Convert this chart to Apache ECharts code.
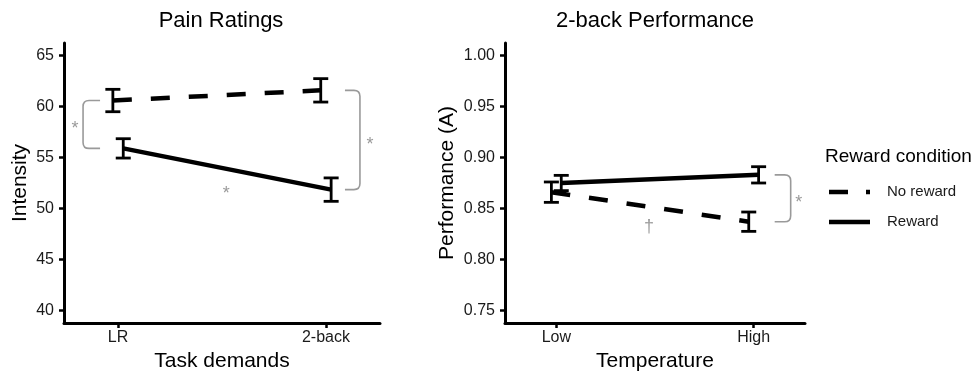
<!DOCTYPE html>
<html>
<head>
<meta charset="utf-8">
<script src="https://cdn.jsdelivr.net/npm/echarts@6/dist/echarts.min.js"></script>
<style>html,body{margin:0;padding:0;background:#fff}#c{width:977px;height:375px}</style>
</head>
<body>
<div id="c"></div>
<script>
// ---------- data ----------
const painCategories = ['LR', '2-back'];
const painNoRewardMean = [60.6, 61.6];
const painNoRewardErr = [1.1, 1.15];
const painRewardMean = [55.9, 51.85];
const painRewardErr = [0.95, 1.15];
const painTicks = [40, 45, 50, 55, 60, 65];

const perfCategories = ['Low', 'High'];
const perfNoRewardMean = [0.866, 0.837];
const perfNoRewardErr = [0.010, 0.0095];
const perfRewardMean = [0.875, 0.883];
const perfRewardErr = [0.0075, 0.008];
const perfTicks = [0.75, 0.80, 0.85, 0.90, 0.95, 1.00];

const groupNames = ['No reward', 'Reward'];
const legendTitle = 'Reward condition';

// ---------- layout / style ----------
const FONT = '"Liberation Sans", Arial, sans-serif';
const DODGE = 0.025;
const GREY = '#9a9a9a';

function xAxisFor(idx, cats, name) {
  return {
    type: 'value', gridIndex: idx, min: 0.74, max: 2.26,
    axisLine: {show: true, onZero: false, lineStyle: {color: '#000', width: 3}},
    axisTick: {show: true, customValues: [1, 2], length: 5, lineStyle: {color: '#000', width: 2.5}},
    axisLabel: {show: true, customValues: [1, 2], formatter: v => cats[Math.round(v) - 1],
      color: '#1a1a1a', fontSize: 16, margin: 7, fontFamily: FONT},
    splitLine: {show: false},
    name: name, nameLocation: 'middle', nameGap: 25,
    nameTextStyle: {fontSize: 21, color: '#000', fontFamily: FONT}
  };
}
function yAxisFor(idx, min, max, ticks, fmt, name, gap) {
  return {
    type: 'value', gridIndex: idx, min: min, max: max,
    axisLine: {show: true, onZero: false, lineStyle: {color: '#000', width: 3}},
    axisTick: {show: true, customValues: ticks, length: 5, lineStyle: {color: '#000', width: 2.5}},
    axisLabel: {show: true, customValues: ticks, formatter: fmt,
      color: '#1a1a1a', fontSize: 16, margin: 10, fontFamily: FONT},
    splitLine: {show: false},
    name: name, nameLocation: 'middle', nameGap: gap, nameRotate: 90,
    nameTextStyle: {fontSize: 21, color: '#000', fontFamily: FONT}
  };
}

function lineSeries(idx, means, dashed, off) {
  return {
    type: 'line', xAxisIndex: idx, yAxisIndex: idx, name: dashed ? groupNames[0] : groupNames[1],
    data: means.map((m, i) => [i + 1 + off, m]),
    symbol: 'none', silent: true, z: 4,
    lineStyle: {color: '#000', width: 4.5, type: dashed ? [19, 19] : 'solid', cap: 'butt'}
  };
}
function errSeries(idx, means, errs, off) {
  return {
    type: 'custom', xAxisIndex: idx, yAxisIndex: idx, z: 3, silent: true,
    data: means.map((m, i) => [i + 1 + off, m - errs[i], m + errs[i]]),
    renderItem: function (params, api) {
      const x = api.value(0);
      const a = api.coord([x, api.value(2)]);
      const b = api.coord([x, api.value(1)]);
      const hw = 7.5, st = {stroke: '#000', lineWidth: 2.8};
      return {type: 'group', children: [
        {type: 'line', shape: {x1: a[0], y1: a[1], x2: b[0], y2: b[1]}, style: st},
        {type: 'line', shape: {x1: a[0] - hw, y1: a[1], x2: a[0] + hw, y2: a[1]}, style: st},
        {type: 'line', shape: {x1: b[0] - hw, y1: b[1], x2: b[0] + hw, y2: b[1]}, style: st}
      ]};
    }
  };
}
// bracket: [xCategory, valueA, valueB]; side -1 = left, +1 = right
function bracketSeries(idx, items, cfg) {
  return {
    type: 'custom', xAxisIndex: idx, yAxisIndex: idx, z: 2, silent: true,
    data: items,
    renderItem: function (params, api) {
      const c = cfg[params.dataIndex];
      const p1 = api.coord([api.value(0), api.value(1)]);
      const p2 = api.coord([api.value(0), api.value(2)]);
      const s = c.side;
      const top = Math.min(p1[1], p2[1]), bot = Math.max(p1[1], p2[1]);
      const xa = p1[0] + s * c.near, xv = p1[0] + s * c.far, r = 6;
      const d = 'M' + xa + ' ' + top + ' L' + (xv - s * r) + ' ' + top +
        ' Q' + xv + ' ' + top + ' ' + xv + ' ' + (top + r) +
        ' L' + xv + ' ' + (bot - r) +
        ' Q' + xv + ' ' + bot + ' ' + (xv - s * r) + ' ' + bot +
        ' L' + xa + ' ' + bot;
      return {type: 'group', children: [
        {type: 'path', shape: {pathData: d}, style: {stroke: GREY, lineWidth: 1.6, fill: null}},
        {type: 'text', x: xv + s * c.star, y: (top + bot) / 2 + 5,
          style: {text: '*', fontSize: 18, fill: GREY, align: 'center', verticalAlign: 'middle', fontFamily: FONT}}
      ]};
    }
  };
}
function noteSeries(idx, items, texts) {
  return {
    type: 'custom', xAxisIndex: idx, yAxisIndex: idx, z: 2, silent: true,
    data: items,
    renderItem: function (params, api) {
      const p = api.coord([api.value(0), api.value(1)]);
      return {type: 'text', x: p[0], y: p[1],
        style: {text: texts[params.dataIndex], fontSize: 18, fill: GREY, align: 'center', verticalAlign: 'middle', fontFamily: FONT}};
    }
  };
}

const option = {
  animation: false,
  backgroundColor: '#fff',
  grid: [
    {left: 64, top: 43, width: 316, height: 280, outerBoundsMode: 'none', containLabel: false},
    {left: 505, top: 43, width: 300, height: 280, outerBoundsMode: 'none', containLabel: false}
  ],
  xAxis: [xAxisFor(0, painCategories, 'Task demands'), xAxisFor(1, perfCategories, 'Temperature')],
  yAxis: [
    yAxisFor(0, 38.75, 66.25, painTicks, v => String(Math.round(v)), 'Intensity', 33),
    yAxisFor(1, 0.7375, 1.0125, perfTicks, v => v.toFixed(2), 'Performance (A)', 47)
  ],
  series: [
    errSeries(0, painNoRewardMean, painNoRewardErr, -DODGE),
    errSeries(0, painRewardMean, painRewardErr, DODGE),
    lineSeries(0, painNoRewardMean, true, -DODGE),
    lineSeries(0, painRewardMean, false, DODGE),
    bracketSeries(0,
      [[1, painNoRewardMean[0], painRewardMean[0]], [2, painNoRewardMean[1], painRewardMean[1]]],
      [{side: -1, near: 18, far: 35, star: 8}, {side: 1, near: 19, far: 34, star: 10}]),
    noteSeries(0, [[1.52, 51.4]], ['*']),

    errSeries(1, perfNoRewardMean, perfNoRewardErr, -DODGE),
    errSeries(1, perfRewardMean, perfRewardErr, DODGE),
    lineSeries(1, perfNoRewardMean, true, -DODGE),
    lineSeries(1, perfRewardMean, false, DODGE),
    bracketSeries(1,
      [[2, perfRewardMean[1], perfNoRewardMean[1]]],
      [{side: 1, near: 21, far: 37, star: 8}]),
    noteSeries(1, [[1.47, 0.8314]], ['†'])
  ],
  graphic: [
    {type: 'text', x: 221, y: 21, style: {text: 'Pain Ratings', fontSize: 22, fill: '#000', align: 'center', verticalAlign: 'middle', fontFamily: FONT}},
    {type: 'text', x: 655, y: 21, style: {text: '2-back Performance', fontSize: 22, fill: '#000', align: 'center', verticalAlign: 'middle', fontFamily: FONT}},
    {type: 'text', x: 825, y: 157, style: {text: legendTitle, fontSize: 19, fill: '#000', align: 'left', verticalAlign: 'middle', fontFamily: FONT}},
    {type: 'line', shape: {x1: 829, y1: 192, x2: 870, y2: 192}, style: {stroke: '#000', lineWidth: 4.5, lineDash: [19, 18], lineCap: 'butt'}},
    {type: 'text', x: 887, y: 192, style: {text: groupNames[0], fontSize: 15, fill: '#1a1a1a', align: 'left', verticalAlign: 'middle', fontFamily: FONT}},
    {type: 'line', shape: {x1: 829, y1: 222, x2: 870, y2: 222}, style: {stroke: '#000', lineWidth: 4.5, lineCap: 'butt'}},
    {type: 'text', x: 887, y: 222, style: {text: groupNames[1], fontSize: 15, fill: '#1a1a1a', align: 'left', verticalAlign: 'middle', fontFamily: FONT}}
  ]
};

const chart = echarts.init(document.getElementById('c'), null, {renderer: 'canvas'});
chart.setOption(option);
</script>
</body>
</html>
